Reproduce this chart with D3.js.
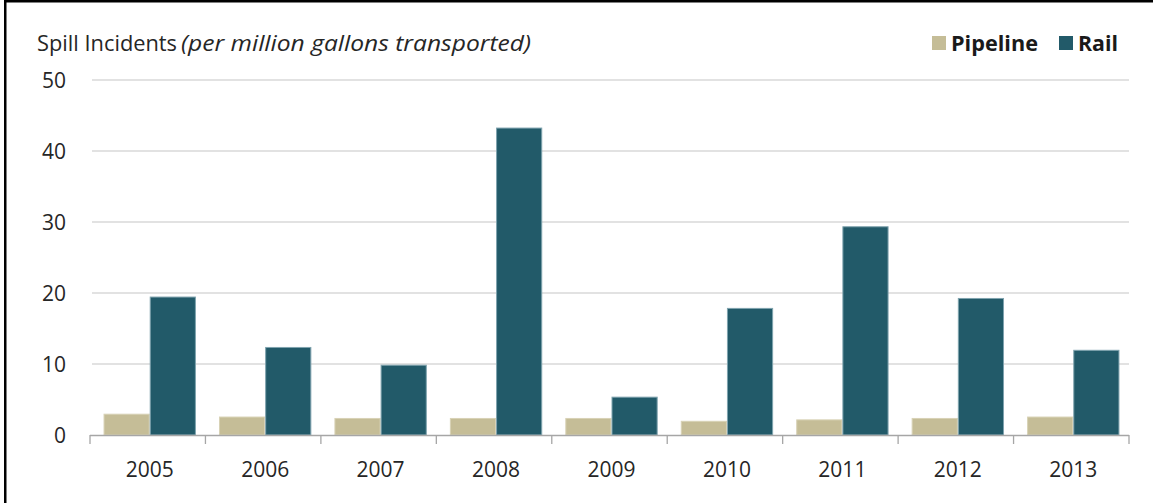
<!DOCTYPE html>
<html><head><meta charset="utf-8">
<script src="https://cdn.jsdelivr.net/npm/d3@7/dist/d3.min.js"></script>
<style>body{margin:0;background:#fff}svg{display:block}</style>
</head><body><svg id="c" width="1153" height="503"></svg>
<script>
const years = ["2005","2006","2007","2008","2009","2010","2011","2012","2013"];
const seriesNames = ["Pipeline","Rail"];
const pipeline = [3.0, 2.6, 2.4, 2.4, 2.4, 2.0, 2.2, 2.4, 2.6];
const rail = [19.5, 12.4, 9.9, 43.3, 5.4, 17.9, 29.4, 19.3, 12.0];
const yTicks = [0, 10, 20, 30, 40, 50];
const colors = ["#C5BD97", "#225A69"];
const strokes = ["#D8D2B6", "#7FA3AE"];

const svg = d3.select("#c");
const font = "'Open Sans', Lato, sans-serif";
const m = {left: 90, right: 1129, top: 80, bottom: 435};

// frame
svg.append("rect").attr("x",4).attr("y",0).attr("width",1149).attr("height",2.5).attr("fill","#000");
svg.append("rect").attr("x",4).attr("y",0).attr("width",2.5).attr("height",503).attr("fill","#000");

const x0 = d3.scaleBand().domain(years).range([m.left, m.right]).paddingInner(0).paddingOuter(0);
const x1 = d3.scaleBand().domain(seriesNames).range([2, x0.bandwidth()+2]).paddingOuter(0.25).paddingInner(0);
const y = d3.scaleLinear().domain([0, 50]).range([m.bottom, m.top]);

// gridlines
svg.append("g").selectAll("line").data(yTicks.filter(d=>d>0)).join("line")
  .attr("x1", m.left+2).attr("x2", m.right).attr("y1", d=>y(d)).attr("y2", d=>y(d))
  .attr("stroke","#D9D9D9").attr("stroke-width",1.3);

// y labels
svg.append("g").selectAll("text").data(yTicks).join("text")
  .attr("x", 66).attr("y", d=>y(d)+7.5).attr("text-anchor","end")
  .attr("font-family", font).attr("font-size", 21).attr("fill","#262626").text(d=>d);

// bars
const data = years.map((yr,i)=>({year:yr, vals:[pipeline[i], rail[i]]}));
const g = svg.append("g");
data.forEach(d=>{
  d.vals.forEach((v,j)=>{
    g.append("rect")
      .attr("x", x0(d.year)+x1(seriesNames[j])+0.5)
      .attr("y", y(v)+0.5)
      .attr("width", x1.bandwidth()-1)
      .attr("height", y(0)-y(v)-0.5)
      .attr("fill", colors[j]).attr("stroke", strokes[j]).attr("stroke-width",1);
  });
});

// x axis
const xa = svg.append("g");
xa.append("line").attr("x1", m.left).attr("x2", m.right).attr("y1", y(0)+0.5).attr("y2", y(0)+0.5)
  .attr("stroke","#A6A6A6").attr("stroke-width",1.5);
const bounds = years.map(d=>x0(d)).concat([m.right]);
xa.selectAll("line.tk").data(bounds).join("line").attr("class","tk")
  .attr("x1", d=>d).attr("x2", d=>d).attr("y1", y(0)).attr("y2", y(0)+9)
  .attr("stroke","#A6A6A6").attr("stroke-width",1.3);
xa.selectAll("text").data(years).join("text")
  .attr("x", d=>x0(d)+x0.bandwidth()/2+2).attr("y", 477).attr("text-anchor","middle")
  .attr("font-family", font).attr("font-size", 21).attr("fill","#262626").text(d=>d);

// title
svg.append("text").attr("x", 37).attr("y", 51).attr("font-family", font)
  .attr("font-size", 21).attr("fill","#262626")
  .attr("textLength", 140).attr("lengthAdjust","spacingAndGlyphs").text("Spill Incidents");
svg.append("text").attr("x", 181).attr("y", 51).attr("font-family", font)
  .attr("font-size", 21).attr("font-style","italic").attr("fill","#262626")
  .attr("textLength", 350).attr("lengthAdjust","spacingAndGlyphs").text("(per million gallons transported)");

// legend
const legX = [932, 1059];
const legW = [87, 40];
seriesNames.forEach((s,i)=>{
  svg.append("rect").attr("x", legX[i]).attr("y", 36).attr("width", 14).attr("height", 14).attr("fill", colors[i]);
  svg.append("text").attr("x", legX[i]+19).attr("y", 51).attr("font-family", font)
    .attr("font-size", 21).attr("font-weight","bold").attr("fill","#1a1a1a")
    .attr("textLength", legW[i]).attr("lengthAdjust","spacingAndGlyphs").text(s);
});
</script></body></html>
